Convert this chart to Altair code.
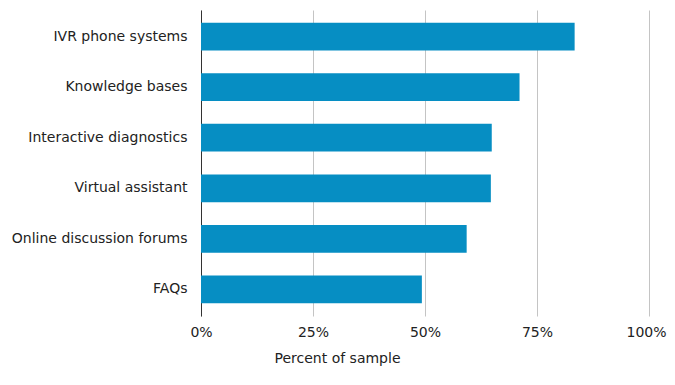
import altair as alt
import pandas as pd

categories = ["IVR phone systems", "Knowledge bases", "Interactive diagnostics",
              "Virtual assistant", "Online discussion forums", "FAQs"]
values = [0.834, 0.711, 0.649, 0.647, 0.593, 0.493]

df = pd.DataFrame({"category": categories, "value": values})

font = "DejaVu Sans"

chart = alt.Chart(df).mark_bar(color="#068EC3").encode(
    x=alt.X("value:Q",
            scale=alt.Scale(domain=[0, 1], nice=False),
            axis=alt.Axis(format=".0%", values=[0, 0.25, 0.5, 0.75, 1.0],
                          title="Percent of sample", grid=True,
                          gridColor="#c4c4c4", gridWidth=1, labelFlush=False,
                          labelOffset={"condition": {"test": "datum.value === 1", "value": -3},
                                       "value": 0},
                          domain=False, ticks=False, labelPadding=9,
                          labelFont=font, labelFontSize=14, labelColor="#222222",
                          titleFont=font, titleFontSize=14, titleFontWeight="normal",
                          titleColor="#222222", titleX=136, titleY=46,
                          titleBaseline="alphabetic", titleAlign="center")),
    y=alt.Y("category:N", sort=categories,
            scale=alt.Scale(paddingInner=0.45, paddingOuter=0.25),
            axis=alt.Axis(title=None, ticks=False, domain=True, domainColor="#333333",
                          domainWidth=1, labelPadding=14, labelFont=font,
                          labelFontSize=14, labelColor="#222222", grid=False)),
).properties(
    width=448, height=306,
    autosize=alt.AutoSizeParams(type="none"),
    padding={"left": 193, "top": 2, "right": 18, "bottom": 55},
).configure_view(stroke=None)

chart.save("out.html", embed_options={"renderer": "svg", "actions": False})
